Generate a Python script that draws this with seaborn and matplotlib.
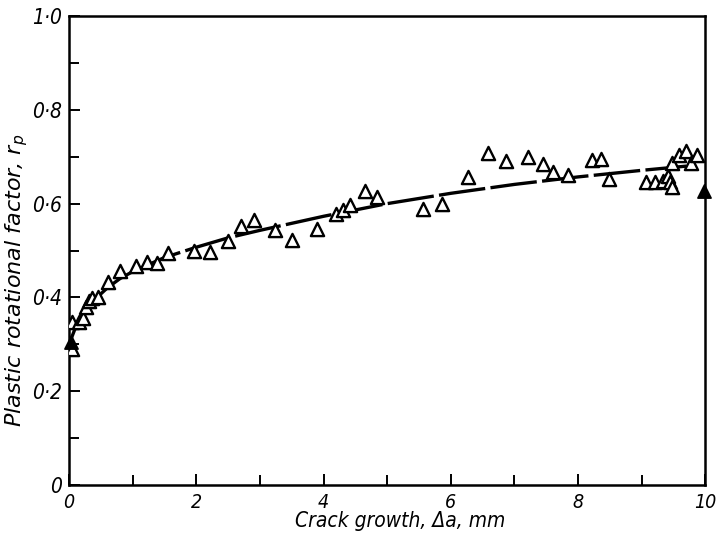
import numpy as np
import pandas as pd
import seaborn as sns
from matplotlib import pyplot as plt
from matplotlib.ticker import MultipleLocator, FuncFormatter

# open triangles: crack growth (mm) vs plastic rotational factor
crack_open = [0.04, 0.05, 0.15, 0.22, 0.27, 0.32, 0.36, 0.46, 0.61, 0.80, 1.05, 1.22, 1.39,
              1.55, 1.97, 2.22, 2.50, 2.70, 2.91, 3.23, 3.51, 3.90, 4.20, 4.31, 4.42, 4.65,
              4.84, 5.56, 5.86, 6.27, 6.58, 6.86, 7.21, 7.45, 7.61, 7.84, 8.22, 8.36, 8.48,
              9.07, 9.21, 9.34, 9.42, 9.44, 9.47, 9.48, 9.59, 9.69, 9.78, 9.87]
rp_open = [0.29, 0.347, 0.347, 0.356, 0.379, 0.393, 0.399, 0.40, 0.432, 0.456, 0.468, 0.475, 0.473,
           0.494, 0.50, 0.496, 0.52, 0.553, 0.566, 0.543, 0.523, 0.546, 0.578, 0.587, 0.598, 0.627,
           0.614, 0.589, 0.60, 0.657, 0.708, 0.691, 0.70, 0.684, 0.667, 0.662, 0.694, 0.696, 0.653,
           0.646, 0.646, 0.648, 0.66, 0.646, 0.635, 0.687, 0.703, 0.712, 0.687, 0.703]

# filled triangles at the ends
crack_filled = [0.03, 9.98]
rp_filled = [0.305, 0.628]

# fitted curve
crack_fit = [0.0, 0.1, 0.2, 0.4, 0.6, 0.8, 1.0, 1.5, 2.0, 2.5, 3.0, 3.5, 4.0, 5.0, 6.0, 7.0,
             8.0, 9.0, 9.7]
rp_fit = [0.30, 0.335, 0.36, 0.395, 0.42, 0.44, 0.455, 0.485, 0.507, 0.527, 0.543, 0.558, 0.573,
          0.600, 0.622, 0.641, 0.657, 0.671, 0.680]

sns.set_style("ticks")
plt.rcParams['font.family'] = ['DejaVu Sans']
plt.rcParams['mathtext.fontset'] = 'dejavusans'
plt.rcParams['text.color'] = 'black'
plt.rcParams['axes.labelcolor'] = 'black'
plt.rcParams['xtick.color'] = 'black'
plt.rcParams['ytick.color'] = 'black'
plt.rcParams['axes.edgecolor'] = 'black'

fig = plt.figure(figsize=(7.19, 5.37), dpi=100)
ax = fig.add_axes([0.096, 0.097, 0.885, 0.873])

fit_df = pd.DataFrame({'crack': crack_fit, 'rp': rp_fit})
sns.lineplot(data=fit_df, x='crack', y='rp', ax=ax, color='black', linewidth=2.4,
             dashes=False, sort=False)
ax.lines[-1].set_dashes((14, 1.6))

open_df = pd.DataFrame({'crack': crack_open, 'rp': rp_open})
sns.scatterplot(data=open_df, x='crack', y='rp', ax=ax, marker='^', s=90,
                facecolor='white', edgecolor='black', linewidth=1.7, zorder=3)

filled_df = pd.DataFrame({'crack': crack_filled, 'rp': rp_filled})
sns.scatterplot(data=filled_df, x='crack', y='rp', ax=ax, marker='^', s=90,
                color='black', edgecolor='black', linewidth=1.2, zorder=4, clip_on=False)

ax.set_xlim(0, 10)
ax.set_ylim(0, 1.0)
ax.xaxis.set_major_locator(MultipleLocator(2))
ax.xaxis.set_minor_locator(MultipleLocator(1))
ax.yaxis.set_major_locator(MultipleLocator(0.2))
ax.yaxis.set_minor_locator(MultipleLocator(0.1))


def dot_fmt(v, pos):
    if abs(v) < 1e-9:
        return '0'
    return f"{v:.1f}".replace('.', '\u00b7')


ax.yaxis.set_major_formatter(FuncFormatter(dot_fmt))
ax.xaxis.set_major_formatter(FuncFormatter(lambda v, pos: f"{v:.0f}"))

ax.tick_params(which='both', direction='in', top=False, right=False, width=1.4)
ax.tick_params(axis='y', labelsize=15, pad=5)
ax.tick_params(axis='x', labelsize=14, pad=6)
ax.tick_params(which='major', length=8)
ax.tick_params(which='minor', length=7)
for lab in ax.get_xticklabels() + ax.get_yticklabels():
    lab.set_fontstyle('italic')
    lab.set_fontstretch('condensed')

for sp in ax.spines.values():
    sp.set_linewidth(1.8)
    sp.set_visible(True)

ax.set_xlabel('Crack growth, \u0394a, mm', fontsize=15, fontstyle='italic',
              fontstretch='condensed')
ax.set_ylabel('Plastic rotational factor, $r_p$', fontsize=16, fontstyle='italic')
ax.xaxis.set_label_coords(0.52, -0.055)
ax.yaxis.set_label_coords(-0.062, 0.437)

fig.savefig('out.png', dpi=100)
